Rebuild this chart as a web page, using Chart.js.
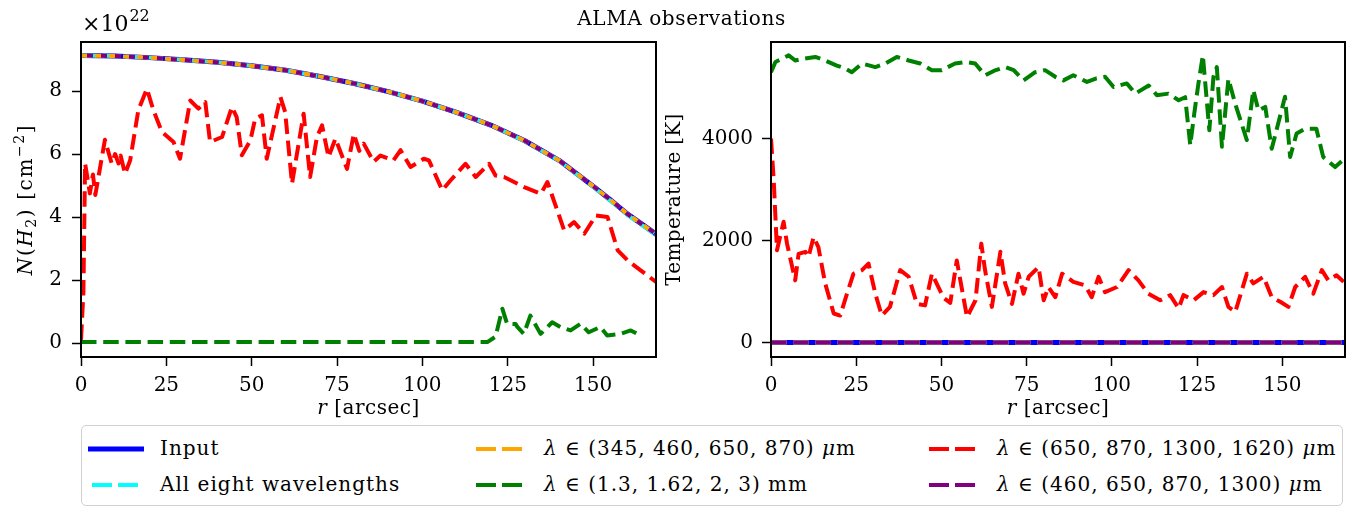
<!DOCTYPE html>
<html>
<head>
<meta charset="utf-8">
<script src="https://cdn.jsdelivr.net/npm/chart.js@4.4.0/dist/chart.umd.min.js"></script>
<style>
  body { margin: 0; background: #fff; }
  #wrap { position: relative; width: 1363px; height: 508px; overflow: hidden; font-family: 'DejaVu Serif', serif; color: #000; }
  #left { position: absolute; left: 0; top: 0; }
  #right { position: absolute; left: 640px; top: 0; }
  #title { position: absolute; left: 0; width: 1363px; top: 7px; text-align: center; font-size: 20px; line-height: 22px; letter-spacing: 0.6px; }
  #legend { position: absolute; left: 81px; top: 425px; width: 1260px; height: 79px; border: 1px solid #d0d0d0; border-radius: 5px; }
  .item { position: absolute; font-size: 20px; line-height: 22px; white-space: nowrap; letter-spacing: 1px; }
  .item svg { position: absolute; left: 0; top: 7px; }
  .item span { position: absolute; left: 72px; top: 0; }
</style>
</head>
<body>
<div id="wrap">
  <canvas id="left" width="680" height="420"></canvas>
  <canvas id="right" width="723" height="420"></canvas>
  <div id="title">ALMA observations</div>
  <div id="legend"></div>
</div>
<script>
// radius samples for the smooth model profile [arcsec]
var rModel = [0, 10, 20, 30, 40, 50, 60, 70, 80, 90, 100, 110, 120, 130, 140, 150, 155, 160, 165, 168.5];
// column density, units of 1e22 cm^-2
var nInput = [9.13, 9.11, 9.06, 8.99, 8.91, 8.80, 8.66, 8.46, 8.24, 7.98, 7.68, 7.32, 6.92, 6.42, 5.80, 4.98, 4.55, 4.10, 3.72, 3.45];
var nAll8 = [9.13, 9.11, 9.06, 8.99, 8.91, 8.80, 8.66, 8.46, 8.24, 7.98, 7.68, 7.32, 6.92, 6.41, 5.79, 4.96, 4.52, 4.07, 3.69, 3.42];
var nSet1 = [9.13, 9.11, 9.06, 8.99, 8.91, 8.80, 8.66, 8.46, 8.24, 7.98, 7.68, 7.32, 6.92, 6.42, 5.80, 4.98, 4.55, 4.10, 3.72, 3.45];
var nSet4 = [9.13, 9.11, 9.06, 8.99, 8.91, 8.80, 8.66, 8.46, 8.24, 7.98, 7.68, 7.32, 6.92, 6.42, 5.80, 4.98, 4.55, 4.10, 3.72, 3.45];

var rSet3N = [0, 0.7, 1.2, 2.6, 3.5, 4.2, 7.0, 9.0, 10.0, 11.0, 11.6, 12.9, 14.4, 16.8, 19.3, 21.2, 23.7, 27.1, 29.0, 32.0,
  34.4, 36.4, 37.8, 41.3, 44.2, 45.6, 47.1, 49.6, 51.0, 53.0, 54.4, 58.4, 59.8, 61.8, 65.2, 67.1, 69.1, 70.6, 72.5, 74.5,
  77.9, 79.9, 81.5, 82.8, 85.7, 87.7, 91.5, 93.6, 96.5, 100.4, 101.9, 105.8, 108.2, 112.6, 115.6, 119.5, 121.4, 123.9,
  129.8, 134.7, 136.6, 141.5, 144.4, 147.4, 150.8, 154.2, 157.2, 160.1, 164.0, 168.5];
var nSet3 = [0.1, 1.6, 5.7, 4.75, 5.35, 4.7, 6.45, 5.7, 6.0, 5.7, 5.95, 5.37, 5.8, 7.4, 8.07, 7.39, 6.7, 6.38, 5.85, 7.7,
  7.44, 7.65, 6.38, 6.54, 7.49, 7.17, 5.96, 6.43, 7.12, 7.23, 5.85, 7.81, 7.33, 5.06, 7.28, 5.27, 6.54, 6.91, 5.9, 6.49,
  5.53, 6.64, 6.1, 6.33, 5.75, 5.95, 5.8, 6.12, 5.59, 5.85, 5.8, 4.85, 5.16, 5.69, 5.27, 5.69, 5.32, 5.27,
  4.95, 4.74, 5.11, 3.58, 3.84, 3.47, 4.05, 4.0, 2.94, 2.62, 2.3, 1.93];

var rSet2N = [0, 119, 121.4, 123.4, 124.8, 127.3, 127.8, 129.7, 131.6, 134.6, 138.0, 140.4, 143.4, 146.3, 148.7, 152.1, 154.1, 158.0, 161.0, 163.9];
var nSet2 = [0.03, 0.03, 0.2, 1.09, 0.61, 0.6, 0.51, 0.29, 0.87, 0.29, 0.66, 0.51, 0.4, 0.61, 0.34, 0.51, 0.24, 0.29, 0.4, 0.24];

// temperature [K]
var rFlat = [0, 168.5];
var tInput = [0, 0];
var tAll8 = [0, 0];
var tSet1 = [0, 0];
var tSet4 = [0, 0];

var rSet2T = [0, 1.3, 5.2, 7.1, 10, 13, 15.9, 19.3, 21.5, 23.7, 26.7, 30.6, 33.5, 36.9, 40.4, 43.8, 47.2, 50.1, 54.0, 57.0,
  59.9, 62.8, 65.5, 68.7, 71.2, 74.1, 77.5, 80.4, 83.4, 85.8, 88.7, 92.7, 95.5, 98.0, 100.5, 104.4, 106.9, 110.8, 113.2,
  116.6, 119.6, 121.5, 123.0, 124.2, 125.4, 126.7, 128.6, 129.8, 130.8, 132.3, 134.2, 136.2, 139.6, 141.5, 143.0, 145.0,
  146.9, 150.8, 152.3, 154.2, 156.6, 160.0, 162.0, 165.5, 168.0];
var tSet2 = [5300, 5500, 5630, 5530, 5570, 5600, 5530, 5430, 5380, 5300, 5470, 5400, 5470, 5600, 5530, 5470, 5340, 5340, 5470, 5500,
  5470, 5240, 5330, 5400, 5340, 5140, 5300, 5340, 5210, 5140, 5240, 5110, 5180, 5210, 5010, 5080, 4880, 5040, 4850,
  4880, 4750, 4810, 3870, 4500, 5080, 5630, 4160, 5210, 5400, 3840, 5170, 4680, 3970, 4950, 4550, 4620,
  3800, 4820, 3640, 4100, 4190, 4190, 3640, 3440, 3590];

var rSet3T = [0, 0.8, 1.75, 3.7, 4.7, 7.1, 8.1, 10.1, 11.0, 12.5, 13.9, 15.9, 18.4, 20.3, 22.3, 24.2, 26.7, 28.6, 30.6, 32.5,
  34.9, 37.9, 40.4, 42.8, 45.2, 47.2, 50.6, 52.6, 54.5, 57.5, 60.0, 61.7, 62.8, 64.8, 67.3, 68.7, 70.7, 72.6, 74.1, 75.6,
  78.5, 80.0, 81.4, 83.4, 85.4, 88.7, 92.2, 94.1, 96.1, 98.0, 101.5, 104.9, 107.8, 110.7, 114.2, 117.1, 119.6, 121.0,
  124.0, 126.9, 129.8, 132.3, 134.2, 136.2, 139.6, 141.5, 144.5, 146.9, 149.4, 151.8, 153.8, 156.7, 159.1, 161.6, 163.5,
  165.9, 168.0];
var tSet3 = [4000, 3180, 1810, 2370, 1940, 1220, 1740, 1780, 1680, 2070, 1870, 1160, 570, 530, 960, 1350, 1420, 1550, 960, 530,
  700, 1420, 1290, 760, 730, 1350, 880, 780, 1610, 500, 830, 1940, 1420, 700, 1780, 1160, 760, 1350, 960, 1290,
  1480, 830, 1090, 890, 1350, 1190, 1120, 890, 1290, 990, 1090, 1420, 1220, 960, 830, 930, 670, 930,
  830, 990, 930, 1090, 700, 600, 1350, 1160, 1290, 890, 800, 700, 1090, 1290, 960, 1420, 1220,
  1320, 1190];

var xTicks = [0, 25, 50, 75, 100, 125, 150];
var nTicks = [0, 2, 4, 6, 8];
var tTicks = [0, 2000, 4000];

var seriesLabels = ['Input', 'All eight wavelengths', '\u03bb \u2208 (345, 460, 650, 870) \u03bcm',
  '\u03bb \u2208 (1.3, 1.62, 2, 3) mm', '\u03bb \u2208 (650, 870, 1300, 1620) \u03bcm', '\u03bb \u2208 (460, 650, 870, 1300) \u03bcm'];
var seriesColors = ['#0000ff', '#00ffff', '#ffa500', '#008000', '#ff0000', '#800080'];

var FONT = "'DejaVu Serif', serif";
var FS = 20;
var DASH = [15.5, 6.7];

function pts(r, v) {
  return r.map(function (x, i) { return { x: x, y: v[i] }; });
}

function line(idx, r, v, extra) {
  var ds = {
    label: seriesLabels[idx],
    data: pts(r, v),
    borderColor: seriesColors[idx],
    borderWidth: 4,
    borderDash: DASH,
    borderJoinStyle: 'round',
    pointRadius: 0,
    fill: false,
    tension: 0
  };
  for (var k in extra) ds[k] = extra[k];
  return ds;
}

// draws a label made of pieces with their own style: '', 'i', 'sub', 'sup'
function richWidth(ctx, parts, size) {
  var w = 0;
  parts.forEach(function (p) {
    var s = (p[1] === 'sub' || p[1] === 'sup') ? size * 0.7 : size;
    ctx.font = (p[1] === 'i' ? 'italic ' : '') + s + 'px ' + FONT;
    w += ctx.measureText(p[0]).width;
  });
  return w;
}
function drawRich(ctx, parts, x, y, size, spacing) {
  ctx.letterSpacing = (spacing || 0) + 'px';
  var cx = x - richWidth(ctx, parts, size) / 2;
  ctx.textAlign = 'left';
  ctx.textBaseline = 'alphabetic';
  ctx.fillStyle = '#000';
  parts.forEach(function (p) {
    var s = size, dy = 0;
    if (p[1] === 'sub') { s = size * 0.7; dy = size * 0.22; }
    if (p[1] === 'sup') { s = size * 0.7; dy = -size * 0.4; }
    ctx.font = (p[1] === 'i' ? 'italic ' : '') + s + 'px ' + FONT;
    ctx.fillText(p[0], cx, y + dy);
    cx += ctx.measureText(p[0]).width;
  });
  ctx.letterSpacing = '0px';
}

// box around the plot plus axis titles
function framePlugin(yParts, yTitleX, ySpacing, extra) {
  return {
    id: 'frame',
    afterDatasetsDraw: function (chart) {
      var a = chart.chartArea, ctx = chart.ctx;
      ctx.save();
      ctx.strokeStyle = '#000';
      ctx.lineWidth = 2;
      ctx.strokeRect(a.left, a.top, a.right - a.left, a.bottom - a.top);
      ctx.restore();
    },
    afterDraw: function (chart) {
      var a = chart.chartArea, ctx = chart.ctx;
      ctx.save();
      drawRich(ctx, [['r', 'i'], [' [arcsec]', '']], (a.left + a.right) / 2, 414, FS, 0.5);
      ctx.translate(yTitleX, (a.top + a.bottom) / 2);
      ctx.rotate(-Math.PI / 2);
      drawRich(ctx, yParts, 0, 0, FS, ySpacing);
      ctx.restore();
      if (extra) extra(chart);
    }
  };
}

function scaleOpts(ticks, min, max, fit, pad) {
  return {
    type: 'linear',
    min: min,
    max: max,
    afterFit: fit,
    afterBuildTicks: function (s) { s.ticks = ticks.map(function (v) { return { value: v }; }); },
    ticks: {
      color: '#000',
      padding: pad,
      maxRotation: 0,
      autoSkip: false,
      font: { family: FONT, size: FS },
      callback: function (v) { return String(v); }
    },
    grid: { drawOnChartArea: false, drawTicks: true, tickLength: 9, tickWidth: 1.5, tickColor: '#000' },
    border: { display: false }
  };
}

function baseOptions(padLeft, padRight, yScale) {
  return {
    responsive: false,
    animation: false,
    events: [],
    layout: { padding: { top: 42, right: padRight, left: padLeft, bottom: 0 } },
    plugins: { legend: { display: false }, tooltip: { enabled: false } },
    scales: {
      x: scaleOpts(xTicks, 0, 168.4, function (s) { s.height = 63; }, 8),
      y: yScale
    }
  };
}

// column density panel
var leftChart = new Chart(document.getElementById('left'), {
  type: 'line',
  data: {
    datasets: [
      line(0, rModel, nInput, { borderDash: [], borderWidth: 5, order: 6 }),
      line(1, rModel, nAll8, { order: 5 }),
      line(2, rModel, nSet1, { borderDash: [12, 2], order: 4 }),
      line(3, rSet2N, nSet2, { order: 3 }),
      line(4, rSet3N, nSet3, { order: 2 }),
      line(5, rModel, nSet4, { borderDash: [6, 8], borderDashOffset: 8, order: 1 })
    ]
  },
  options: baseOptions(0, 24,
    scaleOpts(nTicks, -0.444, 9.556, function (s) { s.width = 81; }, 10)),
  plugins: [framePlugin([['N', 'i'], ['(', ''], ['H', 'i'], ['2', 'sub'], [')', ''], [' [cm', ''], ['\u22122', 'sup'], [']', '']], 32, 1.6,
    function (chart) {
      var ctx = chart.ctx;
      ctx.save();
      ctx.fillStyle = '#000';
      ctx.textAlign = 'left';
      ctx.textBaseline = 'alphabetic';
      ctx.font = '22px ' + FONT;
      ctx.fillText('\u00d710', 82, 31);
      var w = ctx.measureText('\u00d710').width;
      ctx.font = '16px ' + FONT;
      ctx.fillText('22', 82 + w + 1, 21);
      ctx.restore();
    })]
});

// temperature panel
var rightChart = new Chart(document.getElementById('right'), {
  type: 'line',
  data: {
    datasets: [
      line(0, rFlat, tInput, { borderDash: [], borderWidth: 5, order: 6 }),
      line(1, rFlat, tAll8, { order: 5 }),
      line(2, rFlat, tSet1, { order: 4 }),
      line(3, rSet2T, tSet2, { order: 3 }),
      line(4, rSet3T, tSet3, { order: 2 }),
      line(5, rFlat, tSet4, { order: 1 })
    ]
  },
  options: baseOptions(0, 18,
    scaleOpts(tTicks, -282, 5892, function (s) { s.width = 131; }, 9)),
  plugins: [framePlugin([['Temperature [K]', '']], 40, 0.3)]
});

// legend below both panels
var legendSlots = [
  { x: 6, y: 0 }, { x: 6, y: 36 }, { x: 390, y: 0 }, { x: 390, y: 36 }, { x: 843, y: 0 }, { x: 843, y: 36 }
];
var legendHtml = '';
seriesLabels.forEach(function (lab, i) {
  var html = lab.replace('\u03bb', '<i>\u03bb</i>').replace('\u03bcm', '<i>\u03bc</i>m');
  var stroke = i === 0
    ? '<line x1="0" y1="5" x2="56" y2="5" stroke="' + seriesColors[i] + '" stroke-width="5"/>'
    : '<line x1="4" y1="5" x2="50" y2="5" stroke="' + seriesColors[i] + '" stroke-width="4" stroke-dasharray="20 6"/>';
  legendHtml += '<div class="item" style="left:' + legendSlots[i].x + 'px;top:' + (11 + legendSlots[i].y) + 'px">' +
    '<svg width="56" height="10">' + stroke + '</svg><span>' + html + '</span></div>';
});
document.getElementById('legend').innerHTML = legendHtml;
</script>
</body>
</html>
